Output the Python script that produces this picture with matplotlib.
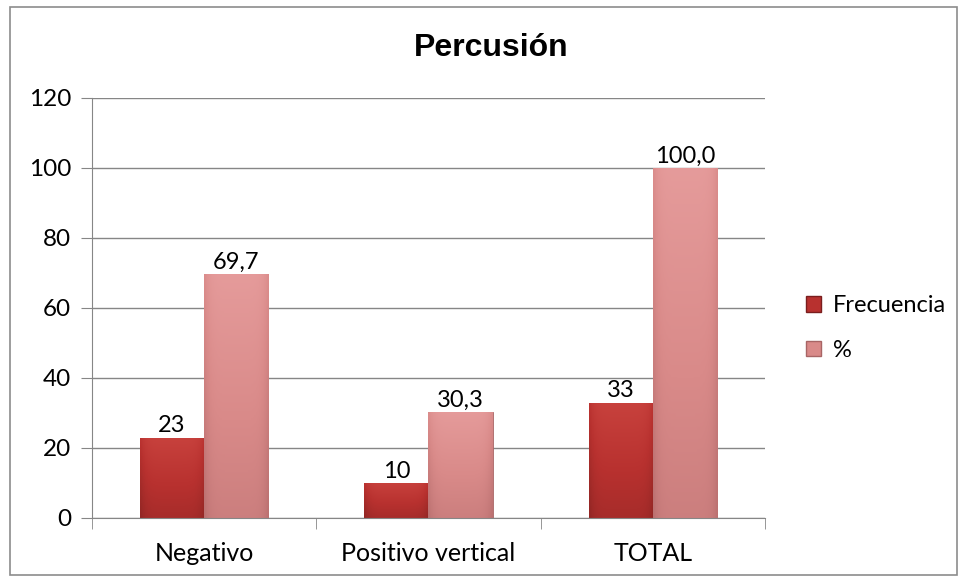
import numpy as np
import matplotlib.pyplot as plt
from matplotlib.patches import Rectangle, Patch
from matplotlib.colors import LinearSegmentedColormap

categories = ['Negativo', 'Positivo vertical', 'TOTAL']
frecuencia = [23, 10, 33]
porcentaje = [69.7, 30.3, 100.0]
frec_labels = ['23', '10', '33']
pct_labels = ['69,7', '30,3', '100,0']
yticks = [0, 20, 40, 60, 80, 100, 120]

plt.rcParams['font.family'] = ['Lato', 'DejaVu Sans']

# Colors for the two series (dark red / pink), light -> dark
dark_cols = ['#d24c46', '#b8312f', '#8e2523']
pink_cols = ['#eda6a6', '#d98a89', '#b86e6e']


def shade_bar(ax, bar, cols):
    # light at the top, darker towards the bottom and the sides
    x0, y0 = bar.get_x(), bar.get_y()
    w, h = bar.get_width(), bar.get_height()
    cmap = LinearSegmentedColormap.from_list('g', cols)
    yy = np.linspace(0, 1, 80)[:, None]
    xx = np.linspace(-1, 1, 40)[None, :]
    grad = 0.2 + 0.5 * yy + 0.25 * np.abs(xx) ** 6
    grad = np.broadcast_to(grad, (80, 40))
    im = ax.imshow(grad, cmap=cmap, vmin=0, vmax=1, aspect='auto',
                   extent=(x0, x0 + w, y0, y0 + h), origin='upper', zorder=3)
    im.set_clip_path(bar)


fig = plt.figure(figsize=(9.62, 5.8), dpi=100)
fig.patches.append(Rectangle((10 / 962, 1 - 575 / 580), 947 / 962, 568 / 580,
                             transform=fig.transFigure, fill=False,
                             edgecolor='#8c8c8c', linewidth=1.2))

ax = fig.add_axes([92 / 962, 1 - 518 / 580, (765 - 92) / 962, (518 - 98) / 580])

x = np.arange(len(categories))
width = 64 / 224

bars1 = ax.bar(x - width / 2, frecuencia, width, color=dark_cols[1],
               edgecolor='#7a1e1e', linewidth=0.6, zorder=2, label='Frecuencia')
bars2 = ax.bar(x + width / 2, porcentaje, width, color=pink_cols[1],
               edgecolor='#a86565', linewidth=0.6, zorder=2, label='%')

for b in bars1:
    shade_bar(ax, b, dark_cols)
for b in bars2:
    shade_bar(ax, b, pink_cols)

for i in range(len(categories)):
    ax.text(x[i] - width / 2, frecuencia[i] + 0.3, frec_labels[i],
            ha='center', va='bottom', fontsize=17, color='black', zorder=4)
    ax.text(x[i] + width / 2, porcentaje[i] + 0.3, pct_labels[i],
            ha='center', va='bottom', fontsize=17, color='black', zorder=4)

ax.set_xlim(-0.5, 2.5)
ax.set_ylim(0, 120)
ax.set_yticks(yticks)
ax.set_yticklabels([str(v) for v in yticks], fontsize=17.5)
ax.set_xticks(x)
ax.set_xticklabels(categories, fontsize=18)
ax.set_xticks([-0.5, 0.5, 1.5, 2.5], minor=True)
ax.tick_params(axis='x', which='major', length=0, pad=17)
ax.tick_params(axis='x', which='minor', length=8, direction='out', color='#868686')
ax.tick_params(axis='y', length=8, direction='out', color='#868686', pad=7)
ax.grid(axis='y', color='#868686', linewidth=1, zorder=0)
ax.set_axisbelow(True)
for s in ['top', 'right']:
    ax.spines[s].set_visible(False)
for s in ['left', 'bottom']:
    ax.spines[s].set_color('#868686')
    ax.spines[s].set_zorder(5)

fig.text(491 / 962, 1 - 48 / 580, 'Percusión', ha='center', va='center',
         fontsize=23, fontweight='bold', family='Liberation Sans')

handles = [Patch(facecolor=dark_cols[1], edgecolor='#7a1e1e'),
           Patch(facecolor=pink_cols[1], edgecolor='#a86565')]
fig.legend(handles, ['Frecuencia', '%'], loc='center left',
           bbox_to_anchor=(806 / 962, 1 - 328 / 580), frameon=False,
           fontsize=17, handlelength=0.65, handleheight=0.65,
           handletextpad=0.5, labelspacing=1.0, borderpad=0, borderaxespad=0)

fig.savefig('out.png', dpi=100)
